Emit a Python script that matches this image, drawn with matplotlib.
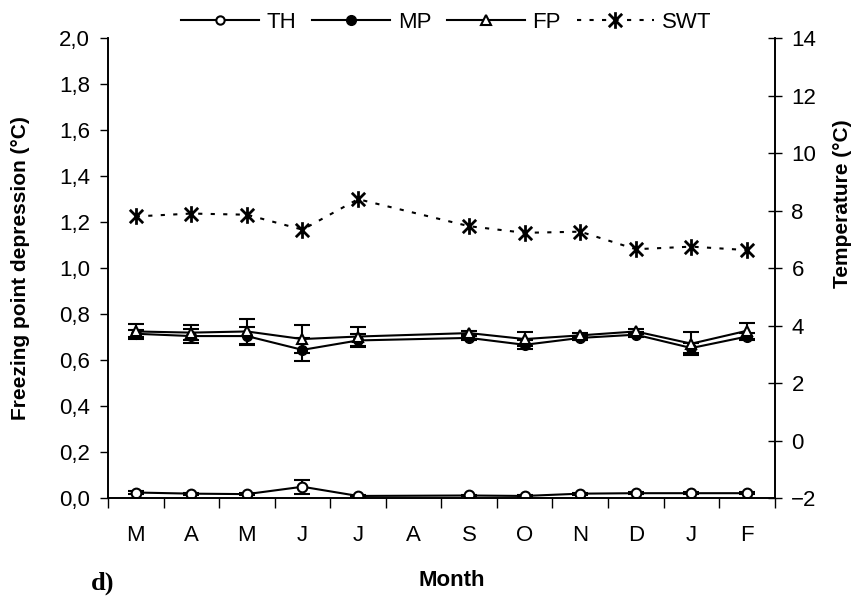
import numpy as np
import matplotlib
matplotlib.use('Agg')
import matplotlib.pyplot as plt
from matplotlib.path import Path

plt.rcParams['font.family'] = ['Liberation Sans', 'DejaVu Sans']

# data (August not sampled)
months = ['M', 'A', 'M', 'J', 'J', 'A', 'S', 'O', 'N', 'D', 'J', 'F']
nan = np.nan
th = [0.025, 0.020, 0.018, 0.050, 0.010, nan, 0.012, 0.010, 0.020, 0.022, 0.022, 0.022]
th_err = [0.005, 0.004, 0.004, 0.030, 0.004, nan, 0.004, 0.004, 0.004, 0.004, 0.004, 0.004]
mp = [0.715, 0.705, 0.705, 0.645, 0.686, nan, 0.697, 0.667, 0.697, 0.711, 0.653, 0.703]
mp_err = [0.015, 0.030, 0.040, 0.050, 0.030, nan, 0.010, 0.020, 0.010, 0.010, 0.022, 0.017]
fp = [0.725, 0.720, 0.725, 0.692, 0.703, nan, 0.718, 0.692, 0.708, 0.725, 0.672, 0.728]
fp_err = [0.033, 0.034, 0.055, 0.062, 0.041, nan, 0.010, 0.032, 0.010, 0.010, 0.050, 0.034]
swt = [7.80, 7.90, 7.86, 7.34, 8.40, nan, 7.46, 7.23, 7.27, 6.66, 6.75, 6.63]

x = np.arange(len(months))

# asterisk marker: vertical bar + X
star = Path([(0, -1), (0, 1), (-0.8, -0.8), (0.8, 0.8), (-0.8, 0.8), (0.8, -0.8)],
            [Path.MOVETO, Path.LINETO] * 3)


def valid(vals):
    v = np.array(vals, dtype=float)
    m = ~np.isnan(v)
    return x[m], v[m]


fig = plt.figure(figsize=(8.57, 5.96), dpi=100)
ax = fig.add_axes([0.126, 0.164, 0.778, 0.772])
ax2 = ax.twinx()

lw = 1.5
kw = dict(color='black', lw=lw, capsize=5.5, elinewidth=1.5, capthick=1.5, markersize=7)

xs, ys = valid(th)
_, es = valid(th_err)
ax.errorbar(xs, ys, yerr=es, marker='o', mfc='white', mec='black', mew=1.5, **kw)
xs, ys = valid(mp)
_, es = valid(mp_err)
ax.errorbar(xs, ys, yerr=es, marker='o', mfc='black', mec='black', **kw)
xs, ys = valid(fp)
_, es = valid(fp_err)
ax.errorbar(xs, ys, yerr=es, marker='^', mfc='white', mec='black', mew=1.5, **kw)
xs, ys = valid(swt)
ax2.plot(xs, ys, color='black', lw=1.5, ls=(0, (2, 4)), marker=star,
         markersize=12, mew=2)

ax.set_xlim(-0.5, 11.5)
ax.set_ylim(0, 2.0)
ax2.set_ylim(-2, 14)

yt = np.arange(0, 2.01, 0.2)
ax.set_yticks(yt)
ax.set_yticklabels([f'{v:.1f}'.replace('.', ',') for v in yt])
ax2.set_yticks(np.arange(-2, 15, 2))

ax.set_xticks(x)
ax.set_xticklabels(months)
ax.set_xticks(np.arange(-0.5, 11.6, 1), minor=True)
ax.tick_params(axis='x', which='major', length=0, pad=19, labelsize=16)
ax.tick_params(axis='x', which='minor', length=7, width=1, direction='out')
ax.tick_params(axis='y', length=6, width=1, direction='out', labelsize=16, pad=7)
ax2.tick_params(axis='y', length=10, width=1, direction='inout', labelsize=16, pad=7)

for a in (ax, ax2):
    a.spines['top'].set_visible(False)
    for s in ('left', 'right', 'bottom'):
        a.spines[s].set_linewidth(1.2)

ax.set_ylabel('Freezing point depression (°C)', fontsize=15, fontweight='bold')
ax.yaxis.set_label_coords(-0.117, 0.5)
ax2.set_ylabel('Temperature (°C)', fontsize=15, fontweight='bold')
ax2.yaxis.set_label_coords(1.087, 0.64)
ax.set_xlabel('Month', fontsize=16, fontweight='bold')
ax.xaxis.set_label_coords(0.515, -0.155)

fig.text(0.106, 0.001, 'd)', fontsize=19, fontweight='bold',
         family='Liberation Serif', ha='left', va='bottom')

# legend
h_th = plt.Line2D([], [], color='black', lw=lw, marker='o', mfc='white', mew=1.5, markersize=6)
h_mp = plt.Line2D([], [], color='black', lw=lw, marker='o', mfc='black', markersize=7)
h_fp = plt.Line2D([], [], color='black', lw=lw, marker='^', mfc='white', mew=1.5, markersize=7)
h_swt = plt.Line2D([], [], color='black', lw=1.5, ls=(0, (2, 4)), marker=star,
                   markersize=12, mew=2)
fig.legend([h_th, h_mp, h_fp, h_swt], ['TH', 'MP', 'FP', 'SWT'], loc='center',
           bbox_to_anchor=(0.521, 0.963), ncol=4, frameon=False, fontsize=16,
           handlelength=3.5, handletextpad=0.35, columnspacing=0.7,
           borderpad=0, borderaxespad=0)

fig.savefig('out.png', dpi=100)
